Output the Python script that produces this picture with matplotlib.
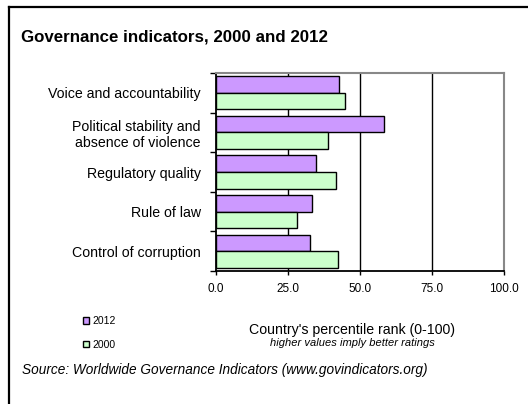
import matplotlib
matplotlib.use("Agg")
import matplotlib.pyplot as plt
from matplotlib.lines import Line2D
import numpy as np

# ===== DATA =====
categories = [
    "Voice and accountability",
    "Political stability and\nabsence of violence",
    "Regulatory quality",
    "Rule of law",
    "Control of corruption",
]
rank_2012 = [42.8, 58.4, 34.7, 33.5, 32.8]
rank_2000 = [44.9, 38.9, 41.6, 28.1, 42.2]
x_ticks = [0, 25, 50, 75, 100]
# ================

plt.rcParams["font.family"] = ["Liberation Sans", "DejaVu Sans"]

PURPLE = "#CC99FF"
GREEN = "#CCFFCC"

fig = plt.figure(figsize=(5.28, 4.04), dpi=100)
W, H = 528, 404
ax = fig.add_axes([216 / W, 1 - 271 / H, (504 - 216) / W, (271 - 73) / H])

y = np.arange(len(categories))
h = 0.42
ax.barh(y - h / 2, rank_2012, height=h, color=PURPLE, edgecolor="black", lw=1, label="2012", zorder=3)
ax.barh(y + h / 2, rank_2000, height=h, color=GREEN, edgecolor="black", lw=1, label="2000", zorder=3)

ax.set_xlim(0, 100)
ax.set_ylim(len(categories) - 0.5, -0.5)

# x axis
ax.set_xticks(x_ticks)
ax.set_xticklabels([f"{v:.1f}" for v in x_ticks], fontsize=8.5)
ax.tick_params(axis="x", direction="out", length=3, width=1, pad=6)
ax.grid(axis="x", color="black", lw=1, zorder=1)
ax.set_axisbelow(True)
gl = ax.get_xgridlines()
gl[0].set_visible(False)
gl[-1].set_visible(False)

# y axis: ticks at boundaries, labels at centres
ax.set_yticks(np.arange(len(categories) + 1) - 0.5)
ax.set_yticklabels([])
ax.tick_params(axis="y", which="major", direction="out", length=4, width=1)
ax.set_yticks(y, minor=True)
ax.set_yticklabels(categories, minor=True, fontsize=10.2, ha="right", ma="right")
ax.tick_params(axis="y", which="minor", length=0, pad=11)

for s in ["left", "bottom"]:
    ax.spines[s].set_color("black")
    ax.spines[s].set_linewidth(1.3)
for s in ["top", "right"]:
    ax.spines[s].set_color("#888888")
    ax.spines[s].set_linewidth(1.5)

# title and notes
fig.text(21 / W, 1 - 37 / H, "Governance indicators, 2000 and 2012",
         fontsize=12.2, fontweight="bold", va="center", ha="left")
fig.text(352 / W, 1 - 330 / H, "Country's percentile rank (0-100)",
         fontsize=10.2, ha="center", va="center")
fig.text(352 / W, 1 - 343 / H, "higher values imply better ratings",
         fontsize=8, style="italic", ha="center", va="center")
fig.text(22 / W, 1 - 370 / H, "Source: Worldwide Governance Indicators (www.govindicators.org)",
         fontsize=9.8, style="italic", ha="left", va="center")

fig.legend(loc="upper left", bbox_to_anchor=(83 / W, 1 - 316 / H), frameon=False,
           fontsize=7.5, handlelength=0.6, handleheight=0.6, handletextpad=0.3,
           labelspacing=1.3, borderpad=0, borderaxespad=0)

# outer frame (top and left edges visible)
fig.add_artist(Line2D([8.5 / W, 1], [1 - 7 / H, 1 - 7 / H], color="black", lw=1.6,
                      transform=fig.transFigure))
fig.add_artist(Line2D([8.5 / W, 8.5 / W], [0, 1 - 7 / H], color="black", lw=1.6,
                      transform=fig.transFigure))

fig.savefig("out.png", dpi=100)
